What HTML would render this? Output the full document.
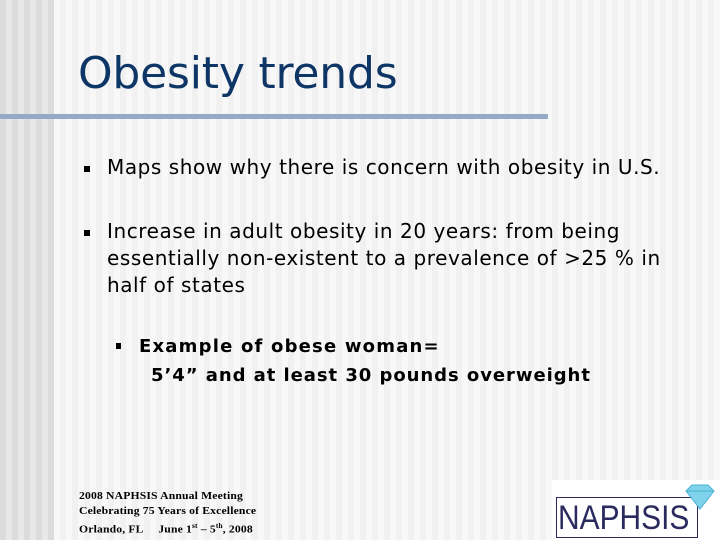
<!DOCTYPE html>
<html><head><meta charset="utf-8"><style>
body{margin:0;width:720px;height:540px;overflow:hidden;position:relative;font-family:"DejaVu Sans","Liberation Sans",sans-serif;
background:repeating-linear-gradient(90deg,#f1f1f1 0 6px,#f8f8f8 6px 12px);}
.left{position:absolute;left:0;top:0;width:54px;height:540px;background:repeating-linear-gradient(90deg,#dcdcdc 0 6px,#e8e8e8 6px 12px);}
.t{position:absolute;white-space:nowrap;color:#000}
.b{position:absolute;width:6px;height:6px;background:#000}
</style></head><body>
<div class="left"></div>
<div class="t" style="left:78px;top:48px;font-size:44px;color:#0d3566;letter-spacing:-0.2px;">Obesity trends</div>
<div style="position:absolute;left:0;top:114px;width:548px;height:5px;background:#93abc6"></div>
<div class="b" style="left:84px;top:166px"></div>
<div class="t" style="left:107px;top:155px;font-size:20px;letter-spacing:0.56px;">Maps show why there is concern with obesity in U.S.</div>
<div class="b" style="left:84px;top:230px"></div>
<div class="t" style="left:107px;top:218px;font-size:20px;line-height:27px;letter-spacing:0.56px;">Increase in adult obesity in 20 years: from being<br>essentially non-existent to a prevalence of &gt;25 % in<br>half of states</div>
<div class="b" style="left:116px;top:343px;width:5px;height:6px"></div>
<div class="t" style="left:139px;top:332px;font-size:18px;font-weight:bold;line-height:29px;letter-spacing:1.2px;">Example of obese woman=</div>
<div class="t" style="left:151px;top:361px;font-size:18px;font-weight:bold;line-height:29px;letter-spacing:0.95px;">5’4” and at least 30 pounds overweight</div>
<div class="t" style="left:79px;top:489px;font-size:11px;font-weight:bold;font-family:'Liberation Serif',serif;line-height:15px;letter-spacing:0.15px;transform:scaleX(1.06);transform-origin:left;">2008 NAPHSIS Annual Meeting<br>Celebrating 75 Years of Excellence<br>Orlando, FL &nbsp;&nbsp;&nbsp;&nbsp;June 1<sup style="font-size:7px">st</sup> – 5<sup style="font-size:7px">th</sup>, 2008</div>
<div style="position:absolute;left:552px;top:480px;width:168px;height:60px;background:#fff">
 <div style="position:absolute;left:4px;top:17px;width:140px;height:39px;border:1px solid #2b2a5e;"></div>
 <div style="position:absolute;left:6px;top:20px;font-size:34px;line-height:36px;color:#2b2a5e;font-family:'Liberation Sans',sans-serif;transform:scaleX(0.88);transform-origin:left;">NAPHSIS</div>
 <svg style="position:absolute;left:130px;top:3px" width="36" height="28"><polygon points="4,8 10,2 26,2 32,8 18,26" fill="#7fd3ea" stroke="#4ab0d0"/><polyline points="4,8 32,8" stroke="#4ab0d0" fill="none"/></svg>
</div>
</body></html>
